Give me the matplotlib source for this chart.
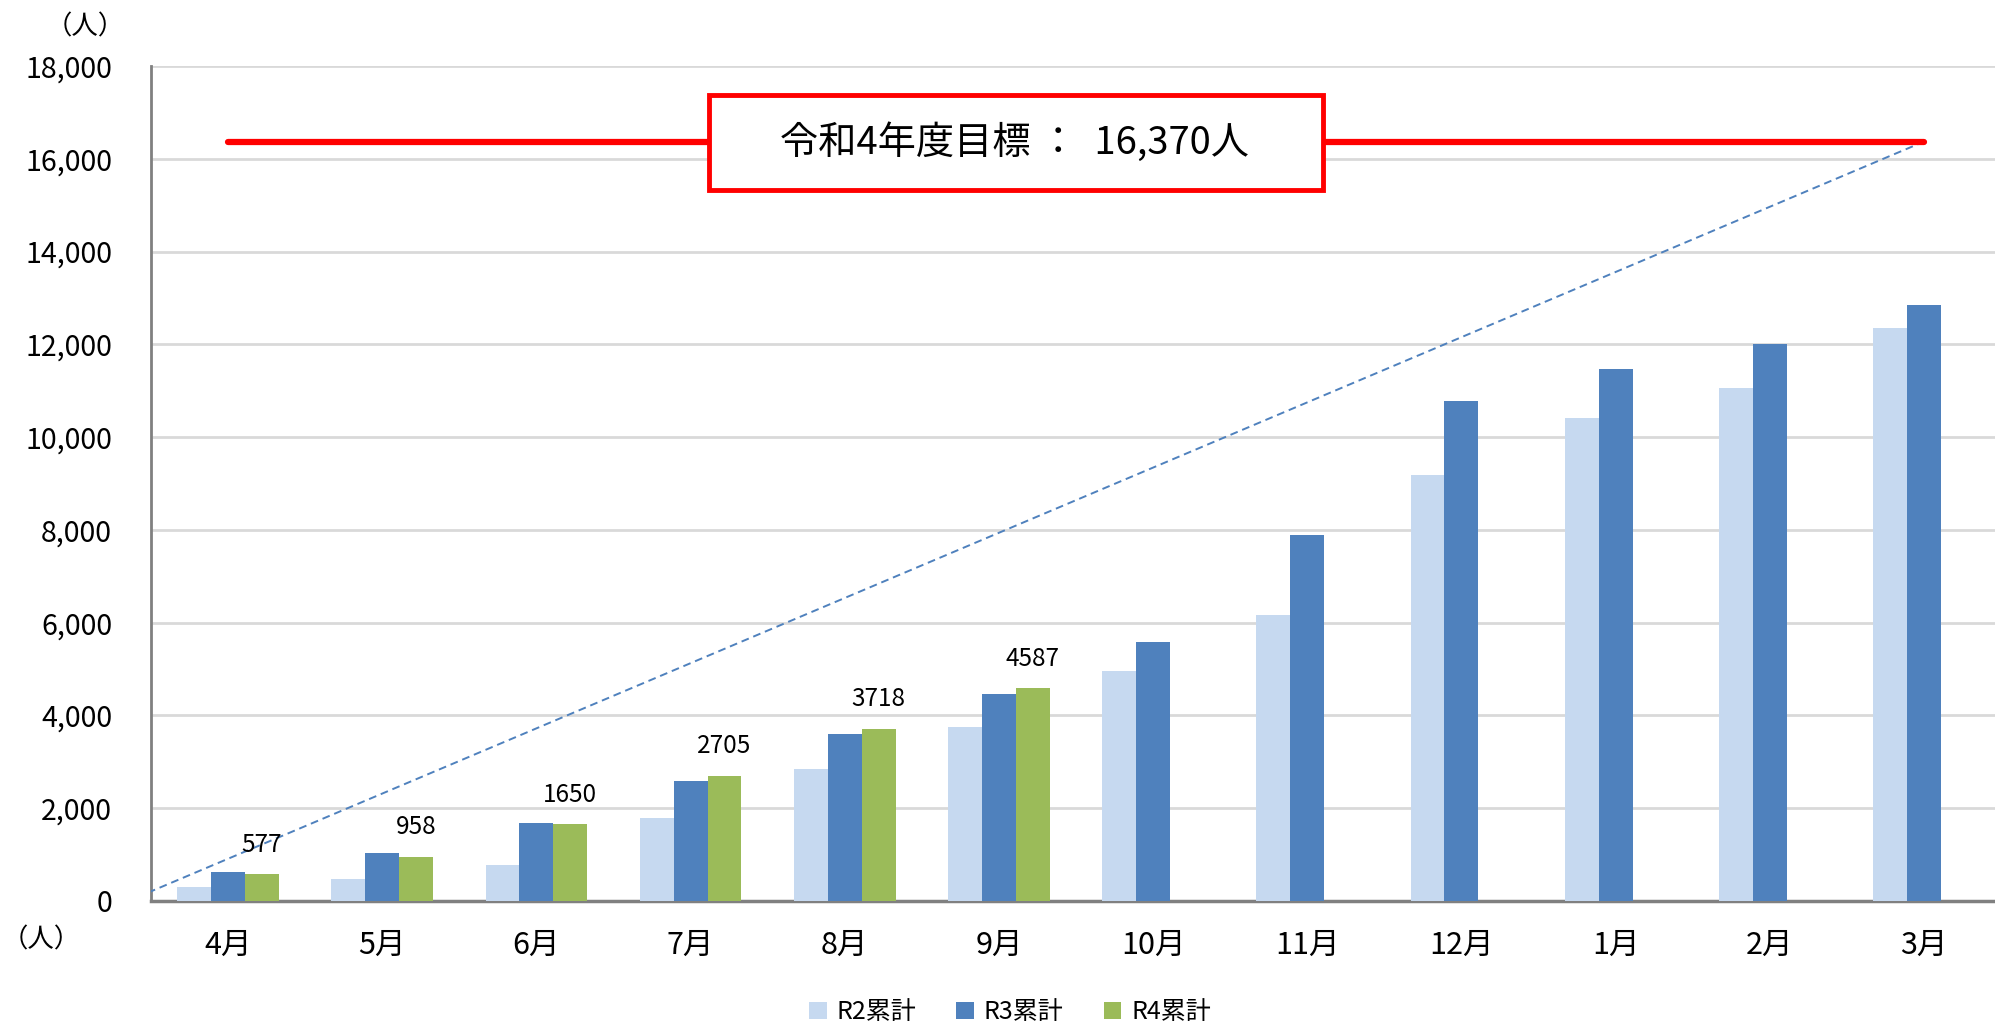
import numpy as np
import matplotlib.pyplot as plt
from matplotlib.patches import Rectangle

plt.rcParams['font.family'] = ['Noto Sans CJK JP', 'DejaVu Sans']

months = ['4月', '5月', '6月', '7月', '8月', '9月',
          '10月', '11月', '12月', '1月', '2月', '3月']
r2 = [300, 480, 780, 1780, 2850, 3750, 4960, 6170, 9180, 10420, 11060, 12360]
r3 = [620, 1040, 1690, 2580, 3610, 4470, 5580, 7890, 10770, 11460, 12010, 12840]
r4 = [577, 958, 1650, 2705, 3718, 4587]
target = 16370
target_line_x = [-0.52, 11]
target_line_y = [180, target]

fig = plt.figure(figsize=(19.95, 10.27), dpi=100)
ax = fig.add_axes([151 / 1995, 126 / 1027, 1850 / 1995, 835 / 1027])

x = np.arange(len(months))
w = 0.22
r4_full = r4 + [np.nan] * (len(months) - len(r4))

ax.bar(x - w, r2, w, color='#C6D9F0', label='R2累計', zorder=3)
ax.bar(x, r3, w, color='#4F81BD', label='R3累計', zorder=3)
ax.bar(x + w, r4_full, w, color='#9BBB59', label='R4累計', zorder=3)

for i, v in enumerate(r4):
    ax.annotate(str(v), (x[i] + w, v), xytext=(0, 21), textcoords='offset points',
                ha='center', va='center', fontsize=17.5, zorder=5)

# 目標までの線
ax.plot(target_line_x, target_line_y, color='#4F81BD', lw=1.4,
        dashes=(4, 2.5), zorder=4)
ax.plot([x[0], x[-1]], [target, target], color='#FF0000', lw=4.5,
        solid_capstyle='round', zorder=4)
ax.add_patch(Rectangle((3.12, 15330), 3.98, 2045, facecolor='white',
                       edgecolor='#FF0000', lw=3.5, zorder=6))
ax.text(5.1, 16330, '令和4年度目標 ：  16,370人', ha='center', va='center',
        fontsize=27.5, zorder=7)

ax.set_xlim(-0.5, 11.5)
ax.set_ylim(0, 18000)
ax.set_yticks(np.arange(0, 18001, 2000))
ax.set_yticklabels([f'{v:,}' for v in range(0, 18001, 2000)])
ax.set_xticks(x)
ax.set_xticklabels(months)
ax.tick_params(axis='y', length=0, pad=28, labelsize=20.5)
ax.tick_params(axis='x', length=0, pad=21, labelsize=22)
ax.grid(axis='y', color='#D9D9D9', lw=2, zorder=0)

for s in ['top', 'right']:
    ax.spines[s].set_visible(False)
ax.spines['left'].set_color('#808080')
ax.spines['left'].set_linewidth(2)
ax.spines['bottom'].set_color('#808080')
ax.spines['bottom'].set_linewidth(2.5)

fig.text(85 / 1995, 1 - 27 / 1027, '（人）', ha='center', va='center', fontsize=19)
fig.text(41 / 1995, 1 - 940 / 1027, '（人）', ha='center', va='center', fontsize=19)

fig.legend(loc='center', bbox_to_anchor=(1010 / 1995, 1 - 1012 / 1027), ncol=3,
           frameon=False, fontsize=18, handlelength=0.7, handleheight=0.7,
           handletextpad=0.4, columnspacing=1.6)

fig.savefig('out.png', dpi=100)
